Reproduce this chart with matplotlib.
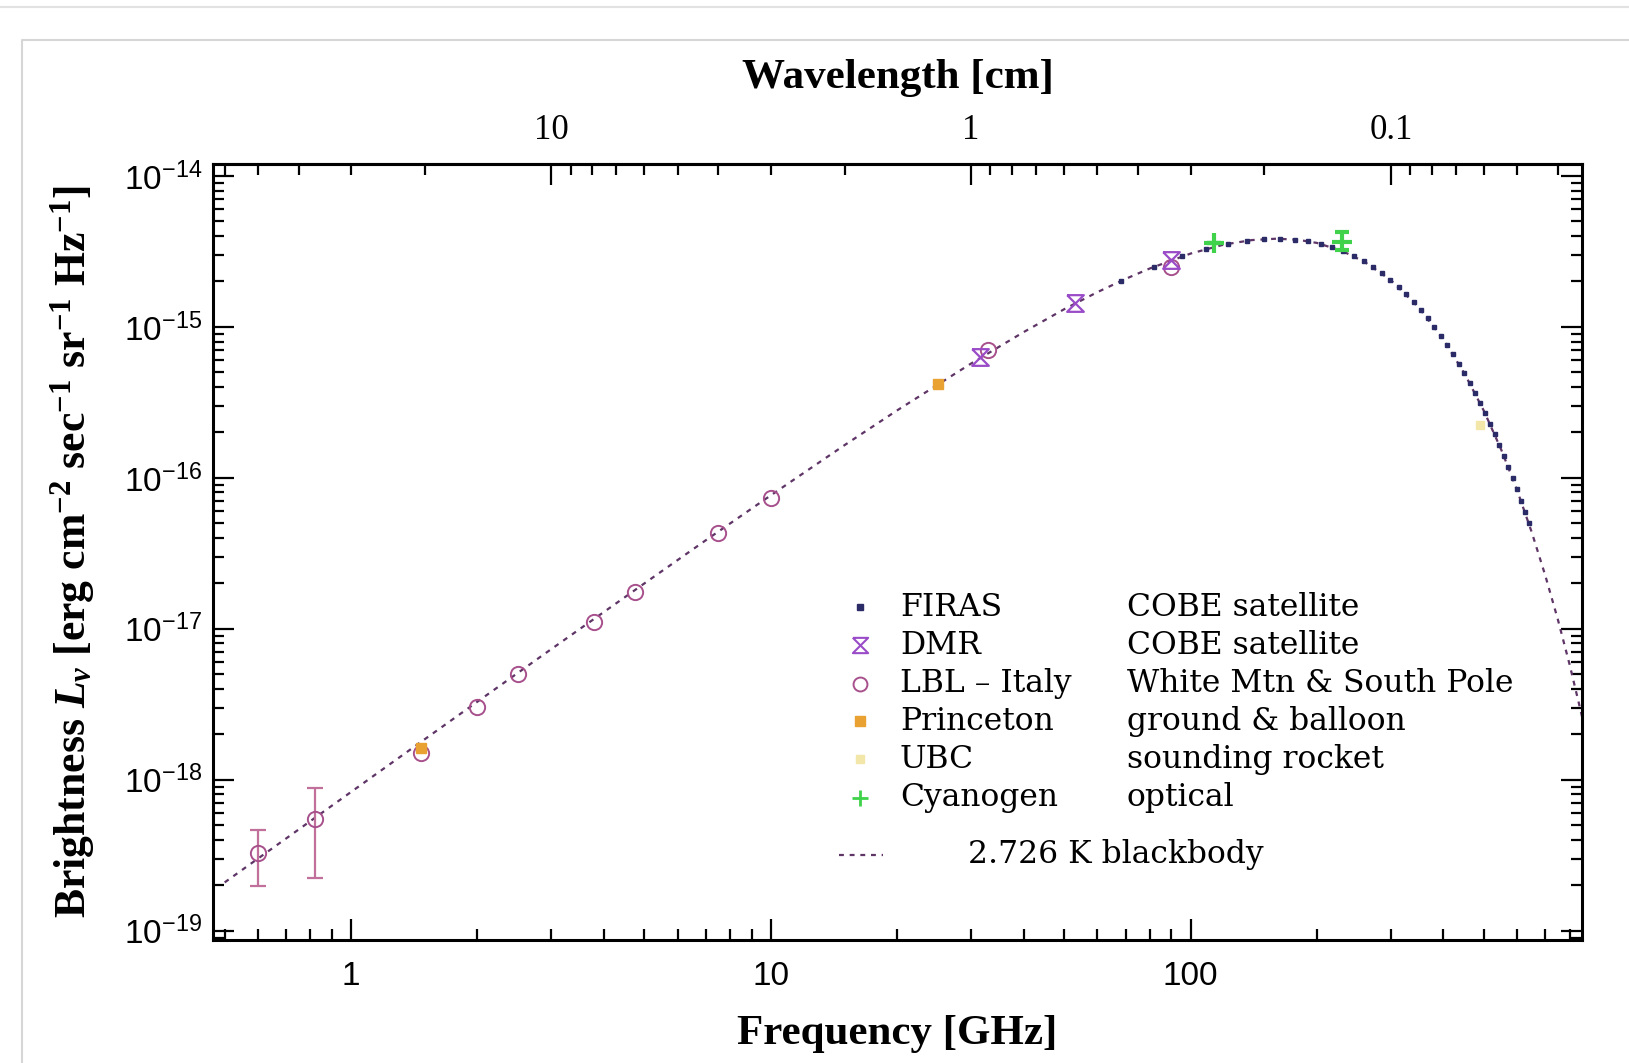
import matplotlib
matplotlib.use("Agg")
import matplotlib.pyplot as plt
import matplotlib.ticker as mticker
from matplotlib.lines import Line2D

# ---- data ----
# 2.726 K blackbody curve: frequency [GHz], brightness [erg cm^-2 s^-1 sr^-1 Hz^-1]
bb_freq = [0.5, 0.7, 1, 1.5, 2, 3, 5, 7, 10, 15, 20, 30, 40, 50, 60, 70, 80, 100,
           120, 140, 160, 180, 200, 230, 260, 300, 350, 400, 450, 500, 550, 600,
           650, 700, 750, 800, 860]
bb_bright = [2.09e-19, 4.08e-19, 8.30e-19, 1.86e-18, 3.29e-18, 7.34e-18, 2.00e-17,
             3.86e-17, 7.66e-17, 1.65e-16, 2.80e-16, 5.72e-16, 9.23e-16, 1.31e-15,
             1.70e-15, 2.08e-15, 2.44e-15, 3.06e-15, 3.51e-15, 3.76e-15, 3.84e-15,
             3.78e-15, 3.60e-15, 3.18e-15, 2.69e-15, 2.04e-15, 1.34e-15, 8.26e-16,
             4.87e-16, 2.77e-16, 1.53e-16, 8.24e-17, 4.35e-17, 2.25e-17, 1.15e-17,
             5.78e-18, 2.49e-18]

firas_freq = [68.1, 81.7, 95.3, 108.9, 122.5, 136.1, 149.7, 163.3, 176.9, 190.5,
              204.1, 217.7, 231.3, 244.9, 258.5, 272.1, 285.7, 299.3, 312.9, 326.5,
              340.1, 353.7, 367.3, 380.9, 394.5, 408.1, 421.7, 435.3, 448.9, 462.5,
              476.1, 489.7, 503.3, 516.9, 530.5, 544.1, 557.7, 571.3, 584.9, 598.5,
              612.1, 625.7, 639.3]
firas_bright = [2.01e-15, 2.50e-15, 2.93e-15, 3.28e-15, 3.55e-15, 3.73e-15, 3.82e-15,
                3.84e-15, 3.79e-15, 3.69e-15, 3.55e-15, 3.37e-15, 3.16e-15, 2.95e-15,
                2.72e-15, 2.49e-15, 2.26e-15, 2.05e-15, 1.84e-15, 1.64e-15, 1.46e-15,
                1.29e-15, 1.14e-15, 9.99e-16, 8.73e-16, 7.61e-16, 6.60e-16, 5.72e-16,
                4.93e-16, 4.25e-16, 3.65e-16, 3.12e-16, 2.67e-16, 2.27e-16, 1.94e-16,
                1.64e-16, 1.39e-16, 1.18e-16, 9.95e-17, 8.39e-17, 7.07e-17, 5.94e-17,
                4.99e-17]

dmr_freq = [31.5, 53.0, 90.0]
dmr_bright = [6.3e-16, 1.43e-15, 2.77e-15]

lbl_freq = [0.60, 0.82, 1.47, 2.0, 2.5, 3.8, 4.75, 7.5, 10.0, 33.0, 90.0]
lbl_bright = [3.25e-19, 5.5e-19, 1.50e-18, 3.04e-18, 5.0e-18, 1.11e-17, 1.76e-17,
              4.3e-17, 7.3e-17, 7.0e-16, 2.5e-15]
lbl_err_freq = [0.60, 0.82]
lbl_err_bright = [3.25e-19, 5.5e-19]
lbl_err_low = [1.98e-19, 2.22e-19]
lbl_err_high = [4.63e-19, 8.83e-19]

princeton_freq = [1.47, 25.0]
princeton_bright = [1.62e-18, 4.2e-16]

ubc_freq = [490.0]
ubc_bright = [2.25e-16]

cn_freq = [114.0, 229.0]
cn_bright = [3.60e-15, 3.67e-15]
cn_err_low = [3.60e-15, 3.24e-15]
cn_err_high = [3.60e-15, 4.28e-15]

x_ticks = [1, 10, 100]
y_ticks = [1e-19, 1e-18, 1e-17, 1e-16, 1e-15, 1e-14]
lam_ticks = [10, 1, 0.1]

legend_names = ["FIRAS", "DMR", "LBL \u2013 Italy", "Princeton", "UBC", "Cyanogen"]
legend_desc = ["COBE satellite", "COBE satellite", "White Mtn & South Pole",
               "ground & balloon", "sounding rocket", "optical"]
bb_label = "2.726 K blackbody"

# ---- style ----
c_bb = "#5e3566"
c_firas = "#2b2b68"
c_dmr = "#9a4cc8"
c_lbl = "#a8508c"
c_lbl_err = "#c0709a"
c_pr = "#e9a232"
c_ubc = "#f2e6a8"
c_cn = "#3fd24a"
hourglass = [(-1, 1), (1, 1), (-1, -1), (1, -1), (-1, 1)]

plt.rcParams["axes.unicode_minus"] = False
plt.rcParams["mathtext.fontset"] = "custom"
plt.rcParams["mathtext.rm"] = "Liberation Serif:bold"
plt.rcParams["mathtext.it"] = "Liberation Serif:italic:bold"
plt.rcParams["mathtext.bf"] = "Liberation Serif:bold"
plt.rcParams["font.family"] = ["Liberation Sans", "DejaVu Sans"]

fig = plt.figure(figsize=(16.29, 10.63), dpi=100)
fig.patch.set_facecolor("white")
ax = fig.add_axes([213 / 1629, 1 - 940 / 1063, 1369 / 1629, 776 / 1063])

# web page frame around the picture
fig.add_artist(Line2D([0, 1], [1 - 7 / 1063] * 2, color="#e2e2e2", lw=1.5))
fig.add_artist(Line2D([22 / 1629, 22 / 1629, 1], [0, 1 - 40 / 1063, 1 - 40 / 1063],
                      color="#d6d6d6", lw=1.5))

# blackbody curve
ax.plot(bb_freq, bb_bright, color=c_bb, lw=1.6, ls=(0, (2.2, 2.6)), zorder=2)

# data sets
ax.errorbar(lbl_err_freq, lbl_err_bright,
            yerr=[[b - l for b, l in zip(lbl_err_bright, lbl_err_low)],
                  [h - b for b, h in zip(lbl_err_bright, lbl_err_high)]],
            fmt="none", ecolor=c_lbl_err, elinewidth=1.6, capsize=6, capthick=1.6, zorder=3)
ax.plot(lbl_freq, lbl_bright, ls="none", marker="o", ms=11, mfc="none",
        mec=c_lbl, mew=1.4, zorder=4)
ax.plot(dmr_freq, dmr_bright, ls="none", marker=hourglass, ms=12, mfc="none",
        mec=c_dmr, mew=1.6, zorder=4)
ax.plot(princeton_freq, princeton_bright, ls="none", marker="s", ms=7,
        color=c_pr, zorder=5)
ax.plot(ubc_freq, ubc_bright, ls="none", marker="s", ms=6, color=c_ubc, zorder=5)
ax.plot(firas_freq, firas_bright, ls="none", marker="s", ms=3.4, color=c_firas, zorder=6)
ax.errorbar(cn_freq, cn_bright,
            yerr=[[b - l for b, l in zip(cn_bright, cn_err_low)],
                  [h - b for b, h in zip(cn_bright, cn_err_high)]],
            fmt="+", ms=15, mew=3, color=c_cn, ecolor=c_cn, elinewidth=1.6,
            capsize=5, capthick=1.6, zorder=7)

ax.set_xscale("log")
ax.set_yscale("log")
ax.set_xlim(0.469, 856)
ax.set_ylim(0.868e-19, 1.2e-14)

ax.xaxis.set_major_locator(mticker.FixedLocator(x_ticks))
ax.xaxis.set_major_formatter(mticker.FuncFormatter(lambda v, p: f"{v:g}"))
ax.xaxis.set_minor_locator(mticker.LogLocator(base=10, subs=range(2, 10)))
ax.xaxis.set_minor_formatter(mticker.NullFormatter())
ax.yaxis.set_major_locator(mticker.FixedLocator(y_ticks))
ax.yaxis.set_major_formatter(mticker.LogFormatterSciNotation())
ax.yaxis.set_minor_locator(mticker.LogLocator(base=10, subs=range(2, 10)))
ax.yaxis.set_minor_formatter(mticker.NullFormatter())

for s in ax.spines.values():
    s.set_linewidth(2.2)
ax.tick_params(which="both", direction="in", top=False, right=True, width=1.6,
               labelsize=24)
ax.tick_params(which="major", length=15)
ax.tick_params(which="minor", length=8)
ax.tick_params(axis="x", pad=15)
ax.tick_params(axis="y", pad=8)

# wavelength axis on top
sec = ax.secondary_xaxis("top", functions=(lambda v: 30.0 / v, lambda v: 30.0 / v))
sec.xaxis.set_major_locator(mticker.FixedLocator(lam_ticks))
sec.xaxis.set_major_formatter(mticker.FuncFormatter(lambda v, p: f"{v:g}"))
sec.xaxis.set_minor_locator(mticker.LogLocator(base=10, subs=range(2, 10)))
sec.xaxis.set_minor_formatter(mticker.NullFormatter())
sec.spines["top"].set_linewidth(2.2)
sec.tick_params(which="both", direction="in", width=1.6, labelsize=25, pad=12)
sec.tick_params(which="major", length=15)
sec.tick_params(which="minor", length=8)
for lab in sec.get_xticklabels():
    lab.set_fontfamily("Liberation Serif")

lab_font = dict(family="Liberation Serif", weight="bold", size=31)
ax.set_xlabel("Frequency [GHz]", labelpad=17, **lab_font)
sec.set_xlabel("Wavelength [cm]", labelpad=19, **lab_font)
ax.set_ylabel(r"Brightness $L_\nu$ [erg cm$^{-2}$ sec$^{-1}$ sr$^{-1}$ Hz$^{-1}$]",
              labelpad=19, family="Liberation Serif", weight="bold", size=31.5)

# legend, drawn by hand in axes coordinates
leg_font = dict(family="DejaVu Serif", size=22.6, va="center", transform=ax.transAxes)
leg_marks = [
    dict(marker="s", ms=4, color=c_firas),
    dict(marker=hourglass, ms=11, mfc="none", mec=c_dmr, mew=1.5),
    dict(marker="o", ms=10, mfc="none", mec=c_lbl, mew=1.4),
    dict(marker="s", ms=7, color=c_pr),
    dict(marker="s", ms=6, color=c_ubc),
    dict(marker="+", ms=12, mew=2, color=c_cn),
]
row_y = [0.4290, 0.3800, 0.3300, 0.2822, 0.2332, 0.1830]
for y, mk, name, desc in zip(row_y, leg_marks, legend_names, legend_desc):
    ax.plot([0.4726], [y], ls="none", transform=ax.transAxes, clip_on=False, **mk)
    ax.text(0.5018, y, name, **leg_font)
    ax.text(0.6676, y, desc, **leg_font)
ax.plot([0.4573, 0.4894], [0.1100, 0.1100], color=c_bb, lw=1.6, ls=(0, (2.2, 2.6)),
        transform=ax.transAxes)
ax.text(0.5515, 0.1100, bb_label, **leg_font)

fig.savefig("out.png", dpi=100, facecolor="white")
